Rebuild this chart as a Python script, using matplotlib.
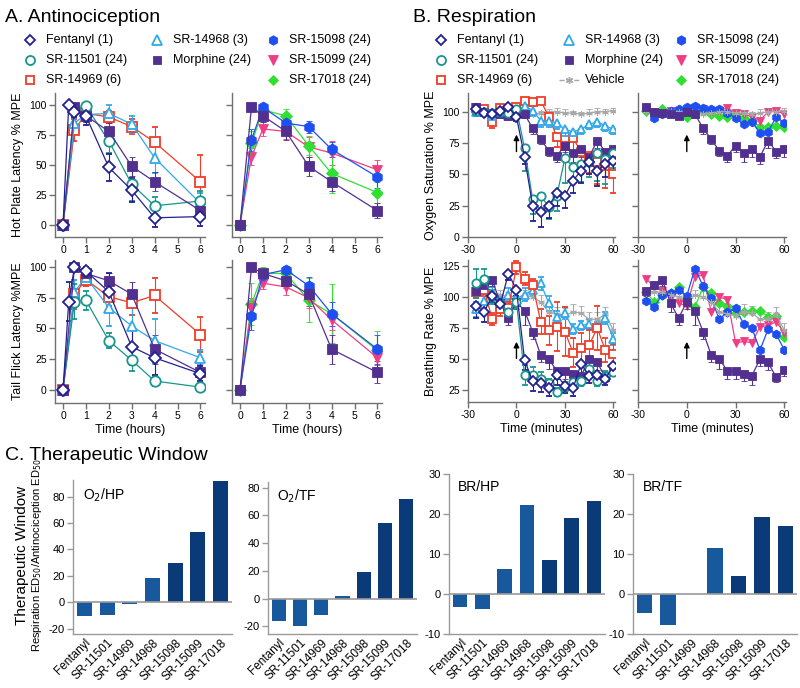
import matplotlib
matplotlib.use('Agg')
import matplotlib.pyplot as plt

plt.rcParams['font.family'] = ['Liberation Sans', 'DejaVu Sans']
plt.rcParams['axes.unicode_minus'] = False

# ---------------- data ----------------
t_hours = [0, 0.5, 1, 2, 3, 4, 6]
t_hours_fen = [0, 0.25, 0.5, 1, 2, 3, 4, 6]

# hot plate (% MPE)
fen_hp = [0, 100, 94, 91, 48, 29, 6, 7]
fen_hp_err = [0, 0, 4, 8, 11, 10, 8, 8]
sr11501_hp = [0, 97, 99, 70, 34, 16, 20]
sr11501_hp_err = [0, 4, 3, 10, 14, 7, 8]
sr14969_hp = [0, 79, 93, 90, 82, 69, 36]
sr14969_hp_err = [0, 9, 5, 5, 6, 13, 22]
sr14968_hp = [0, 85, 92, 93, 84, 56, 18]
sr14968_hp_err = [0, 8, 6, 7, 7, 13, 9]
morph_hp = [0, 98, 91, 78, 49, 36, 12]
morph_hp_err = [0, 3, 5, 7, 8, 8, 6]
sr15098_hp = [0, 71, 98, 85, 82, 63, 40]
sr15098_hp_err = [0, 9, 3, 6, 5, 6, 9]
sr15099_hp = [0, 57, 80, 78, 65, 60, 46]
sr15099_hp_err = [0, 7, 6, 6, 8, 10, 8]
sr17018_hp = [0, 68, 96, 91, 66, 43, 27]
sr17018_hp_err = [0, 10, 4, 6, 8, 16, 9]

# tail flick (% MPE)
fen_tf = [0, 72, 100, 97, 80, 35, 26, 13]
fen_tf_err = [0, 16, 0, 3, 15, 15, 14, 6]
sr11501_tf = [0, 72, 73, 40, 24, 7, 2]
sr11501_tf_err = [0, 14, 8, 6, 9, 4, 2]
sr14969_tf = [0, 78, 90, 76, 71, 77, 45]
sr14969_tf_err = [0, 12, 5, 8, 10, 14, 14]
sr14968_tf = [0, 80, 92, 67, 52, 40, 26]
sr14968_tf_err = [0, 10, 5, 15, 17, 18, 6]
morph_tf = [0, 100, 95, 89, 78, 33, 14]
morph_tf_err = [0, 0, 4, 6, 10, 12, 9]
sr15098_tf = [0, 60, 94, 98, 85, 62, 33]
sr15098_tf_err = [0, 11, 4, 3, 7, 10, 12]
sr15099_tf = [0, 67, 87, 84, 75, 57, 26]
sr15099_tf_err = [0, 8, 5, 7, 8, 8, 6]
sr17018_tf = [0, 70, 95, 95, 73, 62, 32]
sr17018_tf_err = [0, 17, 5, 4, 18, 24, 16]

# respiration, every 5 minutes from -25 to 60
t_min = [-25, -20, -15, -10, -5, 0, 5, 10, 15, 20, 25, 30, 35, 40, 45, 50, 55, 60]

fen_o2 = [102, 99, 98, 101, 104, 96, 64, 25, 20, 25, 35, 33, 45, 53, 60, 53, 58, 61]
fen_o2_err = [2, 2, 3, 2, 2, 3, 6, 12, 12, 10, 10, 10, 10, 10, 10, 12, 10, 8]
sr11501_o2 = [101, 100, 99, 100, 99, 102, 71, 30, 33, 24, 33, 63, 56, 58, 60, 67, 62, 67]
sr11501_o2_err = [2, 2, 2, 2, 2, 2, 18, 12, 10, 10, 12, 20, 12, 14, 12, 22, 20, 12]
sr14969_o2 = [103, 102, 92, 103, 101, 104, 109, 108, 109, 96, 80, 73, 79, 68, 65, 60, 57, 50]
sr14969_o2_err = [4, 3, 5, 3, 3, 3, 2, 3, 3, 6, 8, 12, 12, 18, 14, 18, 18, 15]
sr14968_o2 = [100, 100, 97, 98, 97, 100, 105, 101, 93, 93, 91, 86, 84, 86, 90, 92, 89, 86]
sr14968_o2_err = [3, 3, 3, 3, 3, 3, 3, 4, 5, 5, 5, 5, 5, 4, 4, 4, 4, 4]
morph_o2 = [104, 100, 99, 98, 97, 100, 98, 87, 78, 69, 65, 73, 67, 70, 64, 77, 68, 70]
morph_o2_err = [2, 2, 2, 2, 2, 3, 3, 5, 4, 4, 5, 5, 7, 6, 6, 6, 5, 6]
veh_o2 = [101, 101, 100, 101, 100, 98, 99, 98, 99, 100, 100, 99, 99, 98, 99, 100, 100, 101]
veh_o2_err = [2, 2, 2, 2, 2, 2, 2, 2, 2, 2, 3, 3, 2, 2, 3, 3, 2, 2]
sr15098_o2 = [103, 95, 98, 101, 102, 104, 105, 103, 102, 102, 99, 95, 90, 92, 83, 84, 96, 91]
sr15099_o2 = [103, 98, 99, 101, 100, 102, 103, 102, 100, 101, 103, 99, 98, 96, 93, 100, 101, 98]
sr17018_o2 = [101, 99, 102, 99, 98, 96, 100, 101, 98, 97, 96, 98, 95, 93, 88, 88, 89, 88]

fen_br = [93, 88, 101, 94, 119, 106, 49, 32, 30, 26, 37, 28, 26, 46, 36, 37, 34, 44]
fen_br_err = [10, 8, 5, 6, 5, 5, 8, 8, 7, 6, 8, 6, 6, 8, 6, 6, 5, 6]
sr11501_br = [111, 115, 100, 95, 88, 96, 37, 37, 34, 30, 23, 27, 31, 32, 42, 32, 36, 39]
sr11501_br_err = [12, 8, 6, 5, 4, 5, 8, 6, 5, 4, 3, 4, 5, 4, 6, 4, 4, 3]
sr14969_br = [104, 106, 82, 90, 91, 124, 115, 110, 80, 73, 76, 72, 55, 59, 61, 75, 57, 54]
sr14969_br_err = [5, 5, 5, 5, 5, 5, 5, 5, 10, 12, 20, 20, 12, 12, 12, 18, 10, 8]
sr14968_br = [90, 97, 103, 97, 102, 99, 102, 106, 111, 95, 84, 87, 74, 77, 78, 76, 83, 66]
sr14968_br_err = [6, 6, 5, 5, 5, 5, 5, 5, 5, 6, 5, 5, 4, 4, 4, 4, 5, 5]
morph_br = [105, 110, 114, 95, 83, 96, 89, 72, 53, 50, 40, 40, 38, 36, 50, 47, 35, 41]
morph_br_err = [4, 5, 5, 7, 6, 6, 12, 6, 6, 8, 6, 6, 6, 7, 6, 6, 4, 5]
veh_br = [103, 104, 104, 102, 100, 96, 102, 100, 96, 88, 86, 85, 88, 87, 82, 82, 86, 73]
veh_br_err = [4, 4, 4, 4, 4, 4, 4, 5, 6, 6, 6, 6, 6, 6, 6, 6, 6, 6]
sr15098_br = [97, 92, 102, 103, 106, 101, 123, 109, 99, 82, 88, 91, 78, 75, 57, 74, 70, 57]
sr15099_br = [115, 108, 105, 100, 95, 93, 116, 118, 88, 100, 98, 63, 64, 63, 76, 77, 80, 71]
sr17018_br = [104, 96, 102, 103, 108, 99, 92, 108, 103, 95, 93, 87, 88, 89, 89, 84, 85, 68]

# therapeutic window
tw_compounds = ['Fentanyl', 'SR-11501', 'SR-14969', 'SR-14968', 'SR-15098', 'SR-15099', 'SR-17018']
tw_o2_hp = [-10.5, -9.5, -1, 18, 30, 53, 91.5]
tw_o2_tf = [-16, -19.5, -12, 2, 19.5, 54.5, 72]
tw_br_hp = [-3.3, -3.8, 6.3, 22.2, 8.6, 19, 23.2]
tw_br_tf = [-4.7, -7.8, 0, 11.5, 4.5, 19.2, 17.1]

# ---------------- styles ----------------
STYLE = {
    'Fentanyl (1)': ('#23208f', 'D', False),
    'SR-11501 (24)': ('#17968c', 'o', False),
    'SR-14969 (6)': ('#f03c28', 's', False),
    'SR-14968 (3)': ('#30a8ea', '^', False),
    'Morphine (24)': ('#52308f', 's', True),
    'SR-15098 (24)': ('#1f4ff0', 'h', True),
    'SR-15099 (24)': ('#ef3d85', 'v', True),
    'SR-17018 (24)': ('#30e030', 'D', True),
    'Vehicle': ('#a8a8a8', (6, 2, 0), True),
}
SIZE_SCALE = {'D': 0.82, 's': 0.95, 'o': 1.0, '^': 1.0, 'h': 1.05, 'v': 1.05}
AX_GREY = '#707070'
BAR_LIGHT = '#17599c'
BAR_DARK = '#0b3a78'

W, H = 800, 688
fig = plt.figure(figsize=(8, 6.88), dpi=100)


def rect(l, t, r, b):
    return [l / W, 1 - b / H, (r - l) / W, (b - t) / H]


def style_axes(ax, color=AX_GREY, labelsize=7.5):
    for s in ['top', 'right']:
        ax.spines[s].set_visible(False)
    for s in ['left', 'bottom']:
        ax.spines[s].set_color(color)
        ax.spines[s].set_linewidth(1)
    ax.tick_params(colors=color, labelcolor='black', labelsize=labelsize,
                   length=4, width=1, direction='out', pad=2)


def draw(ax, t, y, err, key, ms=7.5, side='both'):
    c, m, filled = STYLE[key]
    face = c if filled else 'white'
    mew = 1.3 if not filled else 0.6
    if key == 'Vehicle':
        ms = ms * 0.8
    else:
        ms = ms * SIZE_SCALE[m]
    if err is None:
        ax.plot(t, y, color=c, lw=0.9, marker=m, ms=ms, mfc=face, mec=c, mew=mew)
        return
    zeros = [0] * len(err)
    if side == 'low':
        yerr = [err, zeros]
    elif side == 'high':
        yerr = [zeros, err]
    else:
        yerr = err
    ax.errorbar(t, y, yerr=yerr, color=c, lw=0.9, marker=m, ms=ms, mfc=face,
                mec=c, mew=mew, capsize=2.5, elinewidth=0.8, capthick=0.8)


# ---------------- A. Antinociception ----------------
ax_a1 = fig.add_axes(rect(55, 93, 205, 237))
ax_a2 = fig.add_axes(rect(232, 93, 382, 237))
ax_a3 = fig.add_axes(rect(55, 260, 205, 403))
ax_a4 = fig.add_axes(rect(232, 260, 382, 403))

draw(ax_a1, t_hours, sr14969_hp, sr14969_hp_err, 'SR-14969 (6)')
draw(ax_a1, t_hours, sr14968_hp, sr14968_hp_err, 'SR-14968 (3)')
draw(ax_a1, t_hours, sr11501_hp, sr11501_hp_err, 'SR-11501 (24)')
draw(ax_a1, t_hours, morph_hp, morph_hp_err, 'Morphine (24)')
draw(ax_a1, t_hours_fen, fen_hp, fen_hp_err, 'Fentanyl (1)')

draw(ax_a2, t_hours, sr15099_hp, sr15099_hp_err, 'SR-15099 (24)')
draw(ax_a2, t_hours, sr17018_hp, sr17018_hp_err, 'SR-17018 (24)')
draw(ax_a2, t_hours, sr15098_hp, sr15098_hp_err, 'SR-15098 (24)')
draw(ax_a2, t_hours, morph_hp, morph_hp_err, 'Morphine (24)')

draw(ax_a3, t_hours, sr14969_tf, sr14969_tf_err, 'SR-14969 (6)')
draw(ax_a3, t_hours, sr14968_tf, sr14968_tf_err, 'SR-14968 (3)')
draw(ax_a3, t_hours, sr11501_tf, sr11501_tf_err, 'SR-11501 (24)')
draw(ax_a3, t_hours, morph_tf, morph_tf_err, 'Morphine (24)')
draw(ax_a3, t_hours_fen, fen_tf, fen_tf_err, 'Fentanyl (1)')

draw(ax_a4, t_hours, sr17018_tf, sr17018_tf_err, 'SR-17018 (24)')
draw(ax_a4, t_hours, sr15099_tf, sr15099_tf_err, 'SR-15099 (24)')
draw(ax_a4, t_hours, sr15098_tf, sr15098_tf_err, 'SR-15098 (24)')
draw(ax_a4, t_hours, morph_tf, morph_tf_err, 'Morphine (24)')

for ax in [ax_a1, ax_a2, ax_a3, ax_a4]:
    style_axes(ax)
    ax.set_xlim(-0.35, 6.2)
    ax.set_xticks(range(0, 7))
    ax.set_yticks([0, 25, 50, 75, 100])
ax_a1.set_ylim(-10, 110)
ax_a2.set_ylim(-10, 110)
ax_a3.set_ylim(-11, 106)
ax_a4.set_ylim(-11, 106)
for ax in [ax_a2, ax_a4]:
    ax.set_yticklabels([])
ax_a1.set_ylabel('Hot Plate Latency % MPE', fontsize=9)
ax_a3.set_ylabel('Tail Flick Latency %MPE', fontsize=9)
for ax in [ax_a3, ax_a4]:
    ax.set_xlabel('Time (hours)', fontsize=9, labelpad=2)

# ---------------- B. Respiration ----------------
ax_b1 = fig.add_axes(rect(468, 93, 615, 237))
ax_b2 = fig.add_axes(rect(638, 93, 786, 237))
ax_b3 = fig.add_axes(rect(468, 260, 615, 402))
ax_b4 = fig.add_axes(rect(638, 260, 786, 402))

msb = 6
draw(ax_b1, t_min, veh_o2, veh_o2_err, 'Vehicle', msb, 'high')
draw(ax_b1, t_min, sr14969_o2, sr14969_o2_err, 'SR-14969 (6)', msb, 'low')
draw(ax_b1, t_min, sr14968_o2, sr14968_o2_err, 'SR-14968 (3)', msb, 'low')
draw(ax_b1, t_min, morph_o2, morph_o2_err, 'Morphine (24)', msb, 'low')
draw(ax_b1, t_min, sr11501_o2, sr11501_o2_err, 'SR-11501 (24)', msb, 'low')
draw(ax_b1, t_min, fen_o2, fen_o2_err, 'Fentanyl (1)', msb, 'low')

draw(ax_b2, t_min, veh_o2, veh_o2_err, 'Vehicle', msb, 'high')
draw(ax_b2, t_min, sr17018_o2, None, 'SR-17018 (24)', msb)
draw(ax_b2, t_min, sr15099_o2, None, 'SR-15099 (24)', msb)
draw(ax_b2, t_min, sr15098_o2, None, 'SR-15098 (24)', msb)
draw(ax_b2, t_min, morph_o2, morph_o2_err, 'Morphine (24)', msb, 'low')

draw(ax_b3, t_min, veh_br, veh_br_err, 'Vehicle', msb, 'high')
draw(ax_b3, t_min, sr14968_br, sr14968_br_err, 'SR-14968 (3)', msb)
draw(ax_b3, t_min, sr14969_br, sr14969_br_err, 'SR-14969 (6)', msb)
draw(ax_b3, t_min, morph_br, morph_br_err, 'Morphine (24)', msb, 'low')
draw(ax_b3, t_min, sr11501_br, sr11501_br_err, 'SR-11501 (24)', msb)
draw(ax_b3, t_min, fen_br, fen_br_err, 'Fentanyl (1)', msb, 'low')

draw(ax_b4, t_min, veh_br, veh_br_err, 'Vehicle', msb, 'high')
draw(ax_b4, t_min, sr17018_br, None, 'SR-17018 (24)', msb)
draw(ax_b4, t_min, sr15099_br, None, 'SR-15099 (24)', msb)
draw(ax_b4, t_min, sr15098_br, None, 'SR-15098 (24)', msb)
draw(ax_b4, t_min, morph_br, morph_br_err, 'Morphine (24)', msb, 'low')

for ax in [ax_b1, ax_b2, ax_b3, ax_b4]:
    style_axes(ax)
    ax.set_xlim(-30, 61)
    ax.set_xticks([-30, 0, 30, 60])
for ax in [ax_b1, ax_b2]:
    ax.set_ylim(0, 115)
    ax.set_yticks([0, 25, 50, 75, 100])
    ax.annotate('', xy=(0, 84), xytext=(0, 66),
                arrowprops=dict(arrowstyle='-|>', color='black', lw=1, mutation_scale=8))
for ax in [ax_b3, ax_b4]:
    ax.set_ylim(15, 130)
    ax.set_yticks([25, 50, 75, 100, 125])
    ax.annotate('', xy=(0, 66), xytext=(0, 48),
                arrowprops=dict(arrowstyle='-|>', color='black', lw=1, mutation_scale=8))
for ax in [ax_b2, ax_b4]:
    ax.set_yticklabels([])
ax_b1.set_ylabel('Oxygen Saturation % MPE', fontsize=9)
ax_b3.set_ylabel('Breathing Rate % MPE', fontsize=9)
for ax in [ax_b3, ax_b4]:
    ax.set_xlabel('Time (minutes)', fontsize=9, labelpad=2)

# ---------------- C. Therapeutic window ----------------
bar_colors = [BAR_LIGHT] * 4 + [BAR_DARK] * 3
panels = [
    (rect(73, 480, 232, 634), tw_o2_hp, (-24, 92.5), [-20, 0, 20, 40, 60, 80], 'O$_2$/HP'),
    (rect(268, 482, 417, 634), tw_o2_tf, (-25.5, 84), [-20, 0, 20, 40, 60, 80], 'O$_2$/TF'),
    (rect(449, 474, 605, 634), tw_br_hp, (-10, 30), [-10, 0, 10, 20, 30], 'BR/HP'),
    (rect(633, 474, 797, 634), tw_br_tf, (-10, 30), [-10, 0, 10, 20, 30], 'BR/TF'),
]
for pos, vals, ylim, yt, name in panels:
    ax = fig.add_axes(pos)
    x = range(len(tw_compounds))
    ax.bar(x, vals, width=0.66, color=bar_colors)
    ax.axhline(0, color='#9a9a9a', lw=1.2)
    style_axes(ax, color='#9a9a9a', labelsize=8)
    ax.tick_params(axis='x', length=0)
    ax.set_xlim(-0.5, 6.5)
    ax.set_ylim(*ylim)
    ax.set_yticks(yt)
    ax.set_xticks(list(x))
    ax.set_xticklabels(tw_compounds, rotation=45, ha='right', rotation_mode='anchor',
                       fontsize=8.5)
    ax.text(0.06, 0.96, name, transform=ax.transAxes, ha='left', va='top', fontsize=10)

fig.text(22 / W, 1 - 555 / H, 'Therapeutic Window', rotation=90, ha='center', va='center',
         fontsize=11)
fig.text(37 / W, 1 - 555 / H, 'Respiration ED$_{50}$/Antinociception ED$_{50}$', rotation=90,
         ha='center', va='center', fontsize=8)

# ---------------- titles and legends ----------------
fig.text(5 / W, 1 - 17 / H, 'A. Antinociception', fontsize=14, va='center')
fig.text(413 / W, 1 - 17 / H, 'B. Respiration', fontsize=14, va='center')
fig.text(5 / W, 1 - 456 / H, 'C. Therapeutic Window', fontsize=14, va='center')

over = fig.add_axes([0, 0, 1, 1])
over.set_xlim(0, W)
over.set_ylim(H, 0)
over.axis('off')

legend_a = [
    (30, 40, 'Fentanyl (1)'), (30, 60, 'SR-11501 (24)'), (30, 80, 'SR-14969 (6)'),
    (157, 40, 'SR-14968 (3)'), (157, 60, 'Morphine (24)'),
    (273, 40, 'SR-15098 (24)'), (273, 60, 'SR-15099 (24)'), (273, 80, 'SR-17018 (24)'),
]
legend_b = [
    (441, 40, 'Fentanyl (1)'), (441, 60, 'SR-11501 (24)'), (441, 80, 'SR-14969 (6)'),
    (569, 40, 'SR-14968 (3)'), (569, 60, 'Morphine (24)'), (569, 80, 'Vehicle'),
    (681, 40, 'SR-15098 (24)'), (681, 60, 'SR-15099 (24)'), (681, 80, 'SR-17018 (24)'),
]
for lx, ly, key in legend_a + legend_b:
    c, m, filled = STYLE[key]
    face = c if filled else 'white'
    if key == 'Vehicle':
        over.plot([lx - 10, lx + 10], [ly, ly], color=c, lw=1, ls='--')
        over.plot([lx], [ly], marker=m, color=c, ms=5)
    else:
        over.plot([lx], [ly], marker=m, ms=6.5 * SIZE_SCALE[m], mfc=face, mec=c,
                  mew=1.3 if not filled else 0.6, color=c, ls='none')
    over.text(lx + 16, ly, key, fontsize=9, va='center', ha='left')

fig.savefig('out.png', dpi=100)
